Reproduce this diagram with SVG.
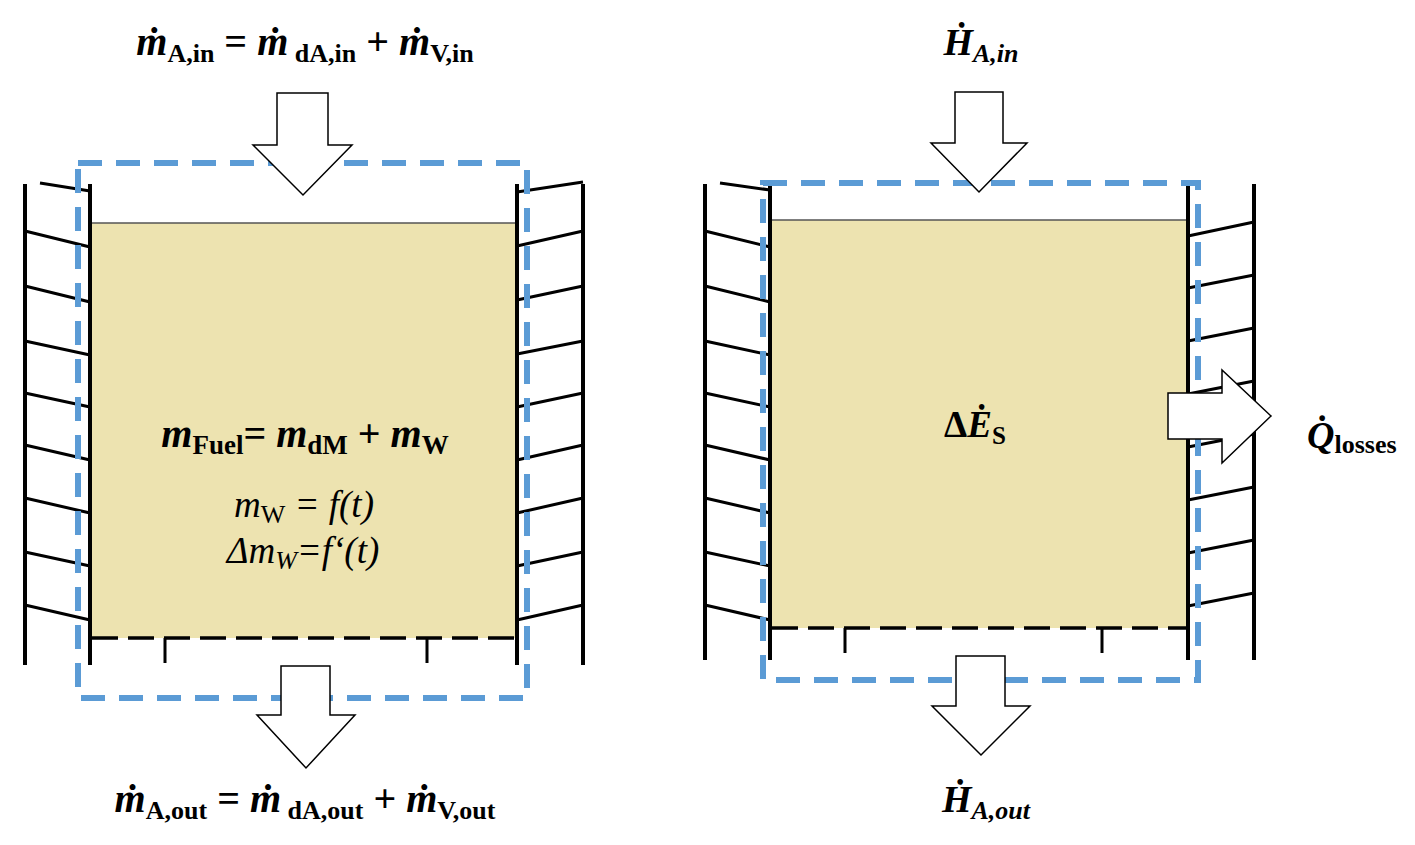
<svg xmlns="http://www.w3.org/2000/svg" width="1415" height="845" viewBox="0 0 1415 845">
<style>
.w{stroke:#000;stroke-width:4;fill:none}
.h{stroke:#000;stroke-width:3;fill:none}
.fuel{fill:#ede3b0;stroke:none}
.top{stroke:#555;stroke-width:1.5}
.bd{stroke:#000;stroke-width:3.5;stroke-dasharray:26,10;fill:none}
.blue{fill:none;stroke:#5b9bd5;stroke-width:6;stroke-dasharray:24,14}
.arr{fill:#fff;stroke:#000;stroke-width:1.5}
text{font-family:"Liberation Serif",serif;fill:#000}
.b{font-weight:bold}
.i{font-style:italic}
</style>
<g id="left">
<rect class="fuel" x="92" y="223" width="423" height="415"/>
<line class="top" x1="92" y1="223" x2="515" y2="223"/>
<line class="w" x1="25" y1="184" x2="25" y2="665"/>
<line class="w" x1="90" y1="184" x2="90" y2="665"/>
<path class="h" d="M40 183L90 191M25 231L90 247M25 286L90 302M25 341L90 355M25 393L90 407M25 445L90 460M25 498L90 513M25 552L90 566M25 605L90 620"/>
<line class="w" x1="517" y1="184" x2="517" y2="665"/>
<line class="w" x1="583" y1="184" x2="583" y2="665"/>
<path class="h" d="M517 192L583 182M517 246L583 231M517 300L583 286M517 354L583 341M517 407L583 393M517 460L583 445M517 513L583 498M517 566L583 552M517 620L583 605"/>
<line class="bd" x1="92" y1="638" x2="515" y2="638"/>
<path class="h" d="M165 638V663M427 638V663"/>
<rect class="blue" x="78" y="163" width="449" height="535"/>
<path class="arr" d="M277 93H328V145H352L303 195L253 145H277Z"/>
<path class="arr" d="M281 666H330V715H355L306 768L257 715H281Z"/>
<text x="305" y="55" text-anchor="middle" font-size="40" class="b"><tspan class="i">ṁ</tspan><tspan font-size="26" dy="7">A,in</tspan><tspan dy="-7"> = </tspan><tspan class="i">ṁ</tspan><tspan font-size="26" dy="7"> dA,in</tspan><tspan dy="-7"> + </tspan><tspan class="i">ṁ</tspan><tspan font-size="26" dy="7">V,in</tspan></text>
<text x="305" y="812" text-anchor="middle" font-size="40" class="b"><tspan class="i">ṁ</tspan><tspan font-size="26" dy="7">A,out</tspan><tspan dy="-7"> = </tspan><tspan class="i">ṁ</tspan><tspan font-size="26" dy="7"> dA,out</tspan><tspan dy="-7"> + </tspan><tspan class="i">ṁ</tspan><tspan font-size="26" dy="7">V,out</tspan></text>
<text x="305" y="447" text-anchor="middle" font-size="40" class="b"><tspan class="i">m</tspan><tspan font-size="27" dy="7">Fuel</tspan><tspan dy="-7">= </tspan><tspan class="i">m</tspan><tspan font-size="27" dy="7">dM</tspan><tspan dy="-7"> + </tspan><tspan class="i">m</tspan><tspan font-size="27" dy="7">W</tspan></text>
<text x="304" y="517" text-anchor="middle" font-size="37" class="i">m<tspan font-size="26" dy="6" font-style="normal">W</tspan><tspan dy="-6"> = f(t)</tspan></text>
<text x="303" y="563" text-anchor="middle" font-size="37" class="i">Δm<tspan font-size="26" dy="6">W</tspan><tspan dy="-6">=f‘(t)</tspan></text>
</g>
<g id="right">
<rect class="fuel" x="772" y="220" width="416" height="408"/>
<line class="top" x1="772" y1="220" x2="1188" y2="220"/>
<line class="w" x1="705" y1="184" x2="705" y2="660"/>
<line class="w" x1="770" y1="184" x2="770" y2="660"/>
<path class="h" d="M720 183L770 190M705 231L770 247M705 286L770 302M705 341L770 355M705 393L770 407M705 445L770 460M705 498L770 513M705 552L770 566M705 605L770 620"/>
<line class="w" x1="1188" y1="184" x2="1188" y2="660"/>
<line class="w" x1="1254" y1="184" x2="1254" y2="660"/>
<path class="h" d="M1188 236L1254 222M1188 288L1254 275M1188 341L1254 328M1188 394L1254 381M1188 447L1254 434M1188 500L1254 487M1188 553L1254 540M1188 606L1254 593"/>
<line class="bd" x1="772" y1="628" x2="1188" y2="628"/>
<path class="h" d="M845 628V653M1102 628V653"/>
<rect class="blue" x="763" y="183" width="435" height="497"/>
<path class="arr" d="M955 92H1003V143H1027L979 192L931 143H955Z"/>
<path class="arr" d="M956 656H1005V706H1030L981 755L932 706H956Z"/>
<path class="arr" d="M1168 393H1222V370L1271 416L1222 463V439H1168Z"/>
<text x="981" y="55" text-anchor="middle" font-size="38" class="b i">Ḣ<tspan font-size="26" dy="7">A,in</tspan></text>
<text x="986" y="812" text-anchor="middle" font-size="38" class="b i">Ḣ<tspan font-size="26" dy="7">A,out</tspan></text>
<text x="975" y="437" text-anchor="middle" font-size="37" class="b">Δ<tspan class="i">Ė</tspan><tspan font-size="25" dy="7">S</tspan></text>
<text x="1307" y="448" font-size="38" class="b"><tspan class="i">Q̇</tspan><tspan font-size="26" dy="5">losses</tspan></text>
</g>
</svg>
